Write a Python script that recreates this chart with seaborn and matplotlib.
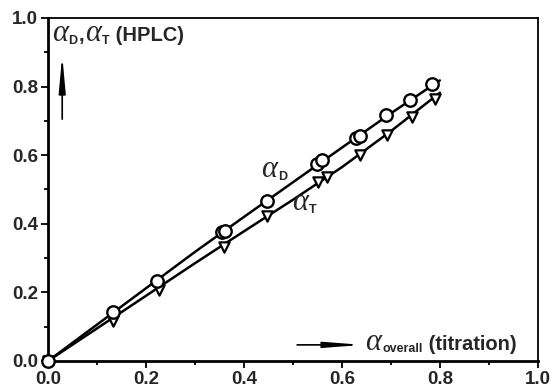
import matplotlib
matplotlib.use("Agg")
import matplotlib.pyplot as plt
import seaborn as sns
import pandas as pd
from matplotlib.ticker import MultipleLocator

x_D = [0.0, 0.133, 0.222, 0.355, 0.362, 0.447, 0.550, 0.560, 0.628, 0.636, 0.690, 0.739, 0.784]
y_D = [0.0, 0.142, 0.233, 0.375, 0.380, 0.467, 0.575, 0.585, 0.650, 0.657, 0.718, 0.762, 0.808]
x_T = [0.0, 0.133, 0.226, 0.360, 0.447, 0.551, 0.569, 0.637, 0.692, 0.743, 0.790]
y_T = [0.0, 0.118, 0.208, 0.332, 0.423, 0.523, 0.535, 0.600, 0.660, 0.712, 0.765]

# smooth curves drawn through the points
x_fit = [0.0, 0.1, 0.2, 0.3, 0.4, 0.5, 0.6, 0.7, 0.8]
y_fit_D = [0.0, 0.106, 0.212, 0.318, 0.420, 0.521, 0.622, 0.722, 0.818]
y_fit_T = [0.0, 0.095, 0.190, 0.285, 0.378, 0.470, 0.565, 0.670, 0.782]

sns.set_style("white")
plt.rcParams['font.family'] = ['Liberation Sans', 'DejaVu Sans']

ALPHA = dict(family='Liberation Serif', style='italic', fontsize=22)
SUB = dict(family='Liberation Sans', fontweight='bold', fontsize=9)
BIG = dict(family='Liberation Sans', fontweight='bold', fontsize=14.5)


def chain(ax, x, y, parts):
    # writes pieces one after another, each baseline shifted by dy points
    t = None
    for s, dy, kw in parts:
        if t is None:
            t = ax.text(x, y, s, ha='left', va='baseline', **kw)
        else:
            t = ax.annotate(s, xy=(1, y), xycoords=(t, 'data'),
                            xytext=(0.5, dy), textcoords='offset points',
                            ha='left', va='baseline', **kw)
    return t


fig = plt.figure(figsize=(5.55, 3.92), dpi=100)
ax = fig.add_axes([0.0865, 0.0791, 0.8825, 0.875])

fit = pd.DataFrame({'x': x_fit + x_fit,
                    'y': y_fit_D + y_fit_T,
                    's': ['D'] * len(x_fit) + ['T'] * len(x_fit)})
sns.lineplot(data=fit, x='x', y='y', units='s', estimator=None,
             color='black', lw=1.8, ax=ax, legend=False)

sns.scatterplot(x=x_T, y=y_T, marker='v', s=55, facecolor='white',
                edgecolor='black', linewidth=1.6, ax=ax, zorder=3, clip_on=False)
sns.scatterplot(x=x_D, y=y_D, marker='o', s=80, facecolor='white',
                edgecolor='black', linewidth=1.7, ax=ax, zorder=4, clip_on=False)

ax.set_xlim(0, 1.0)
ax.set_ylim(0, 1.0)
ax.xaxis.set_major_locator(MultipleLocator(0.2))
ax.xaxis.set_minor_locator(MultipleLocator(0.1))
ax.yaxis.set_major_locator(MultipleLocator(0.2))
ax.yaxis.set_minor_locator(MultipleLocator(0.1))
ax.tick_params(which='both', direction='out', bottom=True, left=True,
               top=False, right=False, width=1.3, color='black')
ax.tick_params(which='major', length=5, labelsize=13.5, pad=2)
ax.tick_params(which='minor', length=3)
for lab in ax.get_xticklabels() + ax.get_yticklabels():
    lab.set_fontweight('bold')
ax.set_xlabel('')
ax.set_ylabel('')
for side in ['left', 'bottom']:
    ax.spines[side].set_linewidth(2.0)
for side in ['top', 'right']:
    ax.spines[side].set_linewidth(1.3)
for sp in ax.spines.values():
    sp.set_color('black')

# axis captions inside the frame
chain(ax, 0.008, 0.933, [('α', 0, ALPHA), ('D', -2, SUB), (',', 0, BIG),
                         ('α', 0, ALPHA), ('T', -2, SUB), (' (HPLC)', 0, BIG)])
ax.annotate('', xy=(0.029, 0.90), xytext=(0.029, 0.697),
            arrowprops=dict(arrowstyle='-|>,head_length=2.2,head_width=0.2',
                            color='black', lw=1.2))
chain(ax, 0.648, 0.031, [('α', 0, ALPHA), ('overall', -1.5, SUB),
                         (' (titration)', 0, BIG)])
ax.annotate('', xy=(0.648, 0.047), xytext=(0.503, 0.047),
            arrowprops=dict(arrowstyle='-|>,head_length=2.2,head_width=0.17',
                            color='black', lw=1.2))

# curve labels
chain(ax, 0.435, 0.536, [('α', 0, ALPHA), ('D', -2, SUB)])
chain(ax, 0.498, 0.440, [('α', 0, ALPHA), ('T', -2, SUB)])

fig.savefig('out.png', dpi=100)
